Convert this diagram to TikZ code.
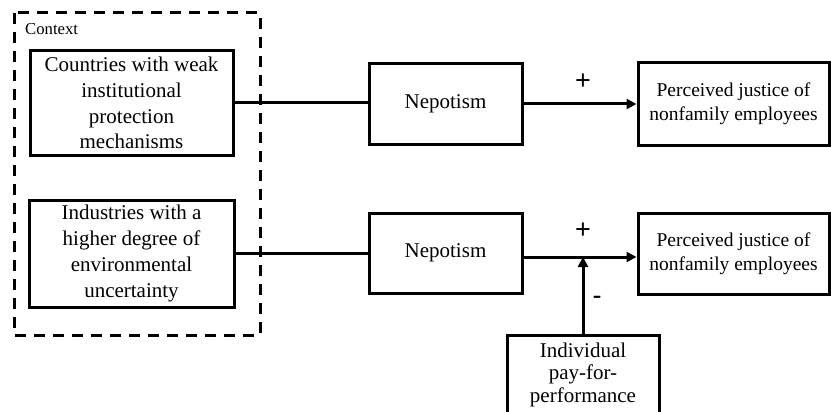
\documentclass[tikz,border=0pt]{standalone}
\usepackage{fontspec}
\setmainfont{Liberation Serif}
\newfontfamily\signfont{Liberation Sans}
\usetikzlibrary{arrows.meta}
\begin{document}
\begin{tikzpicture}[x=1pt,y=-1pt,
  box/.style={draw, line width=3pt, align=center, inner sep=0pt,
    font=\fontsize{21}{25.7}\selectfont},
  smallbox/.style={box, font=\fontsize{19.5}{24}\selectfont},
  plain/.style={align=center, inner sep=0pt, font=\fontsize{21}{22.5}\selectfont},
  context/.style={draw, line width=3pt, dash pattern=on 11pt off 8pt},
  conn/.style={line width=3pt},
  arr/.style={conn, -{Triangle[length=10pt,width=10pt]}},
  sign/.style={inner sep=0pt, font=\signfont\fontsize{27}{27}\selectfont},
  ]
\useasboundingbox (0,0) rectangle (831,412);
\clip (0,0) rectangle (831,412);

% context frame
\draw[context] (14,13) rectangle (260,335);
\node[inner sep=0pt, anchor=base west, font=\fontsize{16.7}{20}\selectfont] (ctx) at (25,35) {Context};

% context conditions
\node[box, minimum width=203pt, minimum height=104pt] (c1) at (131.5,103)
  {Countries with weak\\institutional\\protection\\mechanisms};
\node[box, minimum width=205pt, minimum height=107pt] (c2) at (131.5,253.5)
  {Industries with a\\higher degree of\\environmental\\uncertainty};

% nepotism
\node[box, minimum width=153pt, minimum height=80pt] (n1) at (445.5,104) {Nepotism};
\node[box, minimum width=153pt, minimum height=80pt] (n2) at (445.5,253) {Nepotism};

% outcome
\node[smallbox, minimum width=191pt, minimum height=82pt] (p1) at (733.5,104)
  {Perceived justice of\\nonfamily employees};
\node[smallbox, minimum width=191pt, minimum height=81pt] (p2) at (733.5,253.5)
  {Perceived justice of\\nonfamily employees};

% moderator
\node[draw, line width=3pt, minimum width=152pt, minimum height=100pt, anchor=north, inner sep=0pt] (ind) at (583,334) {};
\node[plain, anchor=north] (indtext) at ([yshift=-8.5pt]ind.north) {Individual\\pay-for-\\performance};

% connectors
\draw[conn] (c1.east) -- (c1.east -| n1.west);
\draw[arr] (n1.east) -- (p1.west);
\draw[conn] (c2.east) -- (c2.east -| n2.west);
\coordinate (j) at (583,257);
\draw[arr] (n2.east |- j) -- (p2.west |- j);
\draw[arr] (ind.north) -- (ind.north |- j);

% signs
\node[sign] (s1) at (583,82) {+};
\node[sign] (s2) at (583,231) {+};
\node[sign] (s3) at (597,300) {-};
\end{tikzpicture}
\end{document}
